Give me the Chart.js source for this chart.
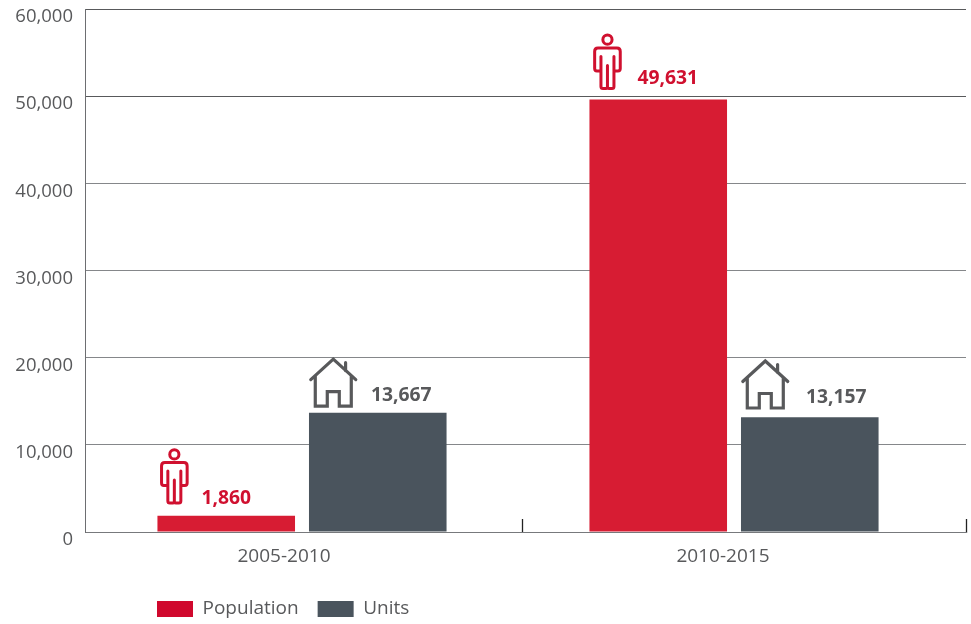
<!DOCTYPE html>
<html>
<head>
<meta charset="utf-8">
<style>html,body{margin:0;padding:0;background:#fff}#w{width:971px;height:624px;position:relative}</style>
<script src="https://cdn.jsdelivr.net/npm/chart.js@4"></script>
</head>
<body>
<div id="w"><canvas id="c" width="971" height="624"></canvas></div>
<script>
const categories = ['2005-2010', '2010-2015'];
const population = [1860, 49631];
const units = [13667, 13157];
const yTicks = [0, 10000, 20000, 30000, 40000, 50000, 60000];
const seriesNames = ['Population', 'Units'];

const FONT = '"Open Sans", sans-serif';
const RED = '#d71c33', SLATE = '#4a545d', RED_KEY = '#d0082d';
const RED_TEXT = '#d0102f', GREY_TEXT = '#58595b';

/* x axis: 1 unit = the spacing of the two bar groups */
const X_MIN = -0.5023, X_MAX = 1.5370;
const X_LABEL_AT = [-0.0417, 0.9745];
const X_MARK_AT = [0.5093, X_MAX];

function person(ctx, cx, top) {
  ctx.save();
  ctx.strokeStyle = RED_TEXT; ctx.lineWidth = 3; ctx.lineJoin = 'round'; ctx.lineCap = 'round';
  ctx.beginPath(); ctx.arc(cx, top + 6.3, 4.6, 0, Math.PI * 2); ctx.stroke();
  ctx.beginPath();
  ctx.moveTo(cx - 6.5, top + 23);
  ctx.lineTo(cx - 6.5, top + 53);
  ctx.quadraticCurveTo(cx - 6.5, top + 55, cx - 4.5, top + 55);
  ctx.lineTo(cx - 1.5, top + 55);
  ctx.quadraticCurveTo(cx, top + 55, cx, top + 53);
  ctx.lineTo(cx, top + 32);
  ctx.moveTo(cx, top + 53);
  ctx.quadraticCurveTo(cx, top + 55, cx + 1.5, top + 55);
  ctx.lineTo(cx + 4.5, top + 55);
  ctx.quadraticCurveTo(cx + 6.5, top + 55, cx + 6.5, top + 53);
  ctx.lineTo(cx + 6.5, top + 23);
  ctx.moveTo(cx - 6.5, top + 37.5);
  ctx.lineTo(cx - 10.5, top + 37.5);
  ctx.quadraticCurveTo(cx - 12.8, top + 37.5, cx - 12.8, top + 35);
  ctx.lineTo(cx - 12.8, top + 18);
  ctx.quadraticCurveTo(cx - 12.8, top + 14.5, cx - 9.5, top + 14.5);
  ctx.lineTo(cx + 9.5, top + 14.5);
  ctx.quadraticCurveTo(cx + 12.8, top + 14.5, cx + 12.8, top + 18);
  ctx.lineTo(cx + 12.8, top + 35);
  ctx.quadraticCurveTo(cx + 12.8, top + 37.5, cx + 10.5, top + 37.5);
  ctx.lineTo(cx + 6.5, top + 37.5);
  ctx.stroke();
  ctx.restore();
}
function house(ctx, cx, top) {
  ctx.save();
  ctx.strokeStyle = GREY_TEXT; ctx.lineWidth = 3.2; ctx.lineJoin = 'miter'; ctx.lineCap = 'round';
  ctx.beginPath();
  ctx.moveTo(cx - 22.5, top + 20.5); ctx.lineTo(cx, top); ctx.lineTo(cx + 22.5, top + 20.5);
  ctx.moveTo(cx + 12.3, top + 3.5); ctx.lineTo(cx + 12.3, top + 11.5);
  ctx.moveTo(cx - 18, top + 17); ctx.lineTo(cx - 18, top + 47); ctx.lineTo(cx - 6, top + 47);
  ctx.lineTo(cx - 6, top + 32.5); ctx.lineTo(cx + 6, top + 32.5); ctx.lineTo(cx + 6, top + 47);
  ctx.lineTo(cx + 18, top + 47); ctx.lineTo(cx + 18, top + 17);
  ctx.stroke();
  ctx.restore();
}

/* offsets from each bar's top-left corner */
const annotate = [
  { set: 0, color: RED_TEXT, icon: person, text: [{dx: 44, dy: -17.5}, {dx: 48, dy: -21}], mark: [{dx: 16.9, dy: -67.7}, {dx: 18, dy: -66}] },
  { set: 1, color: GREY_TEXT, icon: house, text: [{dx: 62, dy: -17}, {dx: 65, dy: -19.5}], mark: [{dx: 24.3, dy: -53.7}, {dx: 24.3, dy: -56.3}] }
];

const barNotes = {
  id: 'barNotes',
  afterDatasetsDraw(chart) {
    const ctx = chart.ctx;
    annotate.forEach(a => {
      chart.getDatasetMeta(a.set).data.forEach((bar, i) => {
        const left = bar.x - bar.width / 2;
        a.icon(ctx, left + a.mark[i].dx, bar.y + a.mark[i].dy);
        ctx.save();
        ctx.font = 'bold 19.3px ' + FONT;
        ctx.fillStyle = a.color;
        ctx.textAlign = 'left';
        ctx.textBaseline = 'middle';
        const v = chart.data.datasets[a.set].data[i].y;
        ctx.fillText(v.toLocaleString('en-US'), left + a.text[i].dx, bar.y + a.text[i].dy);
        ctx.restore();
      });
    });
  }
};
const placeLegend = {
  id: 'placeLegend',
  afterLayout(chart) {
    const l = chart.legend;
    const shift = 138;
    l.left += shift; l.right += shift;
    const dy = 580.5 - l.top;
    l.top += dy; l.bottom += dy;
  }
};

new Chart(document.getElementById('c'), {
  type: 'bar',
  data: {
    datasets: [
      { label: seriesNames[0], data: population.map((v, i) => ({x: i, y: v})), backgroundColor: RED },
      { label: seriesNames[1], data: units.map((v, i) => ({x: i, y: v})), backgroundColor: SLATE }
    ]
  },
  plugins: [barNotes, placeLegend],
  options: {
    responsive: false,
    animation: false,
    layout: { padding: { top: 9, right: 5, left: 0, bottom: 0 } },
    datasets: { bar: { categoryPercentage: 1.508, barPercentage: 0.9079 } },
    plugins: {
      tooltip: { enabled: false },
      legend: {
        position: 'bottom',
        align: 'start',
        labels: {
          boxWidth: 36, boxHeight: 16, padding: 19, color: GREY_TEXT,
          font: { family: FONT, size: 19 },
          generateLabels(chart) {
            return seriesNames.map((n, i) => ({
              text: n, datasetIndex: i, fillStyle: i === 0 ? RED_KEY : SLATE,
              strokeStyle: 'transparent', lineWidth: 0, fontColor: GREY_TEXT
            }));
          }
        }
      }
    },
    scales: {
      x: {
        type: 'linear', offset: false, min: X_MIN, max: X_MAX,
        afterBuildTicks(s) {
          s.ticks = [
            {value: X_LABEL_AT[0], label: categories[0]},
            {value: X_MARK_AT[0], label: ''},
            {value: X_LABEL_AT[1], label: categories[1]},
            {value: X_MARK_AT[1], label: ''}
          ];
        },
        afterTickToLabelConversion(s) {
          s.ticks[0].label = categories[0]; s.ticks[1].label = '';
          s.ticks[2].label = categories[1]; s.ticks[3].label = '';
        },
        afterFit(s) { s.height = 44; s.paddingLeft = 0; s.paddingRight = 0; },
        grid: {
          offset: false, drawOnChartArea: false, tickLength: -13, tickWidth: 1.3,
          tickColor: c => (c.index % 2 === 1 ? '#222' : 'transparent')
        },
        border: { display: true, color: '#77797c', width: 1 },
        ticks: {
          autoSkip: false, maxRotation: 0, padding: 26, color: GREY_TEXT,
          font: { family: FONT, size: 19 }
        }
      },
      y: {
        min: 0, max: 60000,
        afterBuildTicks(s) { s.ticks = yTicks.map(v => ({value: v})); },
        afterFit(s) { s.width = 85; s.paddingTop = 0; s.paddingBottom = 0; },
        grid: { color: c => (c.index > 4 ? '#58595b' : '#85878a'), lineWidth: 1, drawTicks: false },
        border: { display: true, color: '#6d6e71', width: 1 },
        ticks: {
          padding: 12, labelOffset: 8, color: GREY_TEXT,
          font: { family: FONT, size: 18.5 },
          callback: v => Number(v).toLocaleString('en-US')
        }
      }
    }
  }
});
</script>
</body>
</html>
